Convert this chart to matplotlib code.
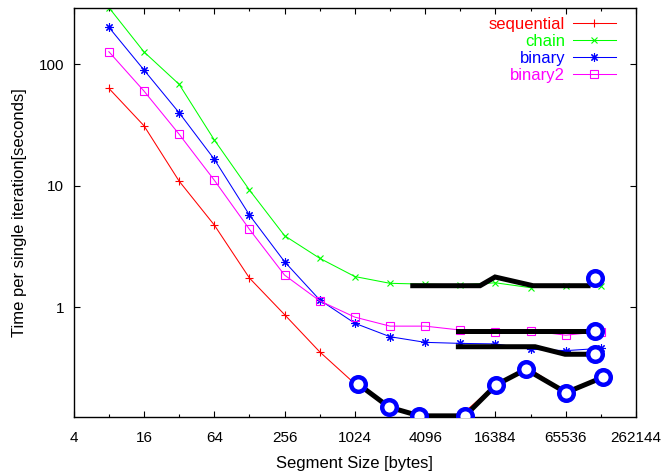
import numpy as np
import matplotlib
matplotlib.use("Agg")
from matplotlib import pyplot as plt

plt.rcParams['font.family'] = ['Liberation Sans', 'DejaVu Sans']

# segment sizes (bytes)
sizes = [8, 16, 32, 64, 128, 256, 512, 1024, 2048, 4096, 8192, 16384, 32768, 65536, 131072]

sequential = [63.2, 31.1, 10.9, 4.75, 1.74, 0.87, 0.43, 0.235, 0.15, 0.128, 0.128, 0.23, 0.31, 0.20, 0.265]
chain      = [292, 126, 68.2, 23.8, 9.22, 3.88, 2.53, 1.79, 1.575, 1.55, 1.53, 1.59, 1.45, 1.50, 1.50]
binary     = [201, 89.4, 39.8, 16.5, 5.74, 2.37, 1.15, 0.739, 0.573, 0.515, 0.505, 0.50, 0.452, 0.44, 0.46]
binary2    = [126.5, 60, 26.5, 11.1, 4.38, 1.84, 1.13, 0.83, 0.70, 0.70, 0.65, 0.63, 0.64, 0.59, 0.63]

# hand-drawn overlay (thick black lines + blue circles)
seq_best_x = [1097, 2010, 3652, 8996, 16590, 29960, 66000, 136900]
seq_best_y = [0.233, 0.151, 0.128, 0.128, 0.230, 0.309, 0.199, 0.266]

chain_best_x = [3208, 12096, 16260, 34410, 101800]
chain_best_y = [1.505, 1.505, 1.775, 1.505, 1.505]
chain_mark = (116900, 1.752)

binary2_best_x = [7884, 101800]
binary2_best_y = [0.638, 0.638]
binary2_mark = (116900, 0.638)

binary_best_x = [7884, 35800, 64700, 101800]
binary_best_y = [0.474, 0.474, 0.411, 0.411]
binary_mark = (116900, 0.411)

xticks = [4, 16, 64, 256, 1024, 4096, 16384, 65536, 262144]
xminor = [8, 32, 128, 512, 2048, 8192, 32768, 131072]
yticks = [1, 10, 100]

fig = plt.figure(figsize=(6.63, 4.73), dpi=100)
ax = fig.add_axes([0.1112, 0.1178, 0.8481, 0.8663])

series = [
    ("sequential", sequential, "#ff0000", "+", 5.5),
    ("chain", chain, "#00ff00", "x", 4.5),
    ("binary", binary, "#0000ff", (8, 2, 0), 6),
    ("binary2", binary2, "#ff00ff", "s", 5.5),
]
for name, vals, col, mk, ms in series:
    ax.plot(sizes, vals, color=col, lw=0.75, marker=mk, ms=ms, mew=0.8,
            mfc="none", label=name, zorder=2)

for bx, by in [(seq_best_x, seq_best_y), (chain_best_x, chain_best_y),
               (binary2_best_x, binary2_best_y), (binary_best_x, binary_best_y)]:
    ax.plot(bx, by, color="black", lw=3.6, solid_joinstyle="miter", zorder=3)

circ = dict(ls="none", marker="o", ms=10.5, mew=3.2, mfc="white", mec="#0000ff", zorder=4)
ax.plot(seq_best_x, seq_best_y, **circ)
for mx, my in [chain_mark, binary2_mark, binary_mark]:
    ax.plot([mx], [my], **circ)

ax.set_xscale("log", base=2)
ax.set_yscale("log")
ax.set_xlim(4, 262144)
ax.set_ylim(0.1246, 292)

ax.set_xticks(xticks)
ax.set_xticklabels([str(v) for v in xticks])
ax.set_xticks(xminor, minor=True)
ax.set_xticklabels([], minor=True)
ax.set_yticks(yticks)
ax.set_yticklabels([str(v) for v in yticks])
ax.yaxis.set_minor_locator(matplotlib.ticker.NullLocator())

ax.tick_params(which="both", direction="in", top=True, right=True, labelsize=11)
ax.tick_params(which="major", length=4.3, width=0.8)
ax.tick_params(which="minor", length=2.2, width=0.8)
ax.tick_params(axis="x", pad=10)
ax.tick_params(axis="y", pad=7)
for s in ax.spines.values():
    s.set_linewidth(1.0)

ax.set_xlabel("Segment Size [bytes]", fontsize=12, labelpad=8)
ax.set_ylabel("Time per single iteration[seconds]", fontsize=12, labelpad=8)

leg = ax.legend(loc="upper right", bbox_to_anchor=(0.9706, 0.9846), frameon=False,
                markerfirst=False, fontsize=12, labelcolor="linecolor",
                handlelength=2.6, handletextpad=0.45, labelspacing=0.122,
                borderaxespad=0.0, borderpad=0.2)
for t in leg.get_texts():
    t.set_ha("right")

fig.savefig("out.png", dpi=100)
